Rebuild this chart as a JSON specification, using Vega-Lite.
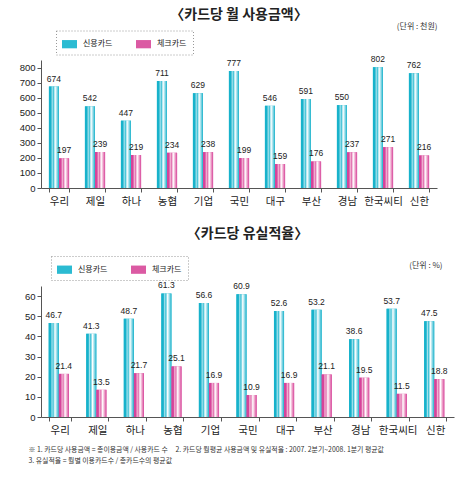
{
  "$schema": "https://vega.github.io/schema/vega-lite/v6.json",
  "background": "white",
  "padding": {"left": 19, "top": 8, "right": 5, "bottom": 4},
  "config": {
    "font": "Liberation Sans, Noto Sans CJK KR",
    "view": {"stroke": null},
    "concat": {"spacing": 19},
    "title": {"fontSize": 14, "fontWeight": "bold", "color": "#222", "font": "Noto Sans CJK KR"},
    "axis": {
      "domainColor": "#555",
      "tickColor": "#555",
      "tickSize": 4,
      "labelColor": "#222",
      "labelFont": "Liberation Sans",
      "labelFontSize": 9.5
    },
    "axisX": {"labelFont": "Noto Sans CJK KR", "labelFontSize": 10.5, "labelPadding": 4},
    "legend": {"strokeDash": [1, 2]}
  },
  "resolve": {"scale": {"color": "independent"}, "legend": {"color": "independent"}},
  "datasets": {
    "usage": [
      {"bank": "우리", "신용카드": 674, "체크카드": 197},
      {"bank": "제일", "신용카드": 542, "체크카드": 239},
      {"bank": "하나", "신용카드": 447, "체크카드": 219},
      {"bank": "농협", "신용카드": 711, "체크카드": 234},
      {"bank": "기업", "신용카드": 629, "체크카드": 238},
      {"bank": "국민", "신용카드": 777, "체크카드": 199},
      {"bank": "대구", "신용카드": 546, "체크카드": 159},
      {"bank": "부산", "신용카드": 591, "체크카드": 176},
      {"bank": "경남", "신용카드": 550, "체크카드": 237},
      {"bank": "한국씨티", "신용카드": 802, "체크카드": 271},
      {"bank": "신한", "신용카드": 762, "체크카드": 216}
    ],
    "active": [
      {"bank": "우리", "신용카드": 46.7, "체크카드": 21.4},
      {"bank": "제일", "신용카드": 41.3, "체크카드": 13.5},
      {"bank": "하나", "신용카드": 48.7, "체크카드": 21.7},
      {"bank": "농협", "신용카드": 61.3, "체크카드": 25.1},
      {"bank": "기업", "신용카드": 56.6, "체크카드": 16.9},
      {"bank": "국민", "신용카드": 60.9, "체크카드": 10.9},
      {"bank": "대구", "신용카드": 52.6, "체크카드": 16.9},
      {"bank": "부산", "신용카드": 53.2, "체크카드": 21.1},
      {"bank": "경남", "신용카드": 38.6, "체크카드": 19.5},
      {"bank": "한국씨티", "신용카드": 53.7, "체크카드": 11.5},
      {"bank": "신한", "신용카드": 47.5, "체크카드": 18.8}
    ]
  },
  "columns": 1,
  "align": "none",
  "concat": [
    {
      "title": {"text": "〈카드당 월 사용금액〉", "offset": 0},
      "width": 396,
      "height": 128,
      "data": {"name": "usage"},
      "transform": [{"fold": ["신용카드", "체크카드"], "as": ["card", "value"]}],
      "encoding": {
        "x": {
          "field": "bank", "type": "nominal",
          "sort": ["우리", "제일", "하나", "농협", "기업", "국민", "대구", "부산", "경남", "한국씨티", "신한"],
          "scale": {"paddingInner": 0.44, "paddingOuter": 0.22},
          "axis": {"title": null, "labelAngle": 0, "tickBand": "extent"}
        },
        "xOffset": {"field": "card", "type": "nominal", "scale": {"paddingInner": 0}},
        "y": {
          "field": "value", "type": "quantitative",
          "scale": {"domain": [0, 850], "nice": false},
          "axis": {
            "values": [0, 100, 200, 300, 400, 500, 600, 700, 800],
            "grid": false,
            "title": "(단위 : 천원)",
            "titleAngle": 0, "titleX": 396, "titleY": -34,
            "titleAlign": "right", "titleBaseline": "middle",
            "titleFontSize": 8, "titleFontWeight": "normal", "titleColor": "#333",
            "titleFont": "Noto Sans CJK KR"
          }
        }
      },
      "layer": [
        {
          "mark": {"type": "bar"},
          "encoding": {
            "color": {
              "field": "card", "type": "nominal",
              "scale": {"range": ["#2bbbd2", "#db5aa3"]},
              "legend": {
                "orient": "none", "legendX": 15, "legendY": -29.5,
                "direction": "horizontal", "title": null,
                "symbolType": "M-1,-0.55H1V0.55H-1Z", "symbolSize": 225,
                "symbolStrokeWidth": 0, "symbolOpacity": 1,
                "labelFont": "Noto Sans CJK KR", "labelFontSize": 8, "labelColor": "#222",
                "labelOffset": 6, "columnPadding": 23, "padding": 6,
                "strokeColor": "#999"
              }
            }
          }
        },
        {
          "mark": {"type": "bar"},
          "encoding": {
            "color": {
              "condition": {"test": "datum.card === '신용카드'", "value":
                {"gradient": "linear", "x1": 0, "y1": 0, "x2": 1, "y2": 0, "stops": [
                  {"offset": 0, "color": "#17b2cb"}, {"offset": 0.2, "color": "#17b2cb"},
                  {"offset": 0.33, "color": "#a6e2ec"}, {"offset": 0.44, "color": "#3ec1d6"},
                  {"offset": 0.62, "color": "#ffffff"}, {"offset": 0.82, "color": "#86d6e4"},
                  {"offset": 1, "color": "#17b2cb"}]}},
              "value":
                {"gradient": "linear", "x1": 0, "y1": 0, "x2": 1, "y2": 0, "stops": [
                  {"offset": 0, "color": "#d6439a"}, {"offset": 0.2, "color": "#d6439a"},
                  {"offset": 0.33, "color": "#f3b6d5"}, {"offset": 0.44, "color": "#e272b0"},
                  {"offset": 0.62, "color": "#ffffff"}, {"offset": 0.82, "color": "#ec9cc6"},
                  {"offset": 1, "color": "#d6439a"}]}
            }
          }
        },
        {
          "mark": {"type": "text", "baseline": "bottom", "dy": -3, "fontSize": 8.5, "font": "Liberation Sans", "color": "#222"},
          "encoding": {"text": {"field": "value", "type": "quantitative", "format": "d"}}
        }
      ]
    },
    {
      "title": {"text": "〈카드당 유실적율〉", "offset": 15},
      "width": 413,
      "height": 131,
      "data": {"name": "active"},
      "transform": [{"fold": ["신용카드", "체크카드"], "as": ["card", "value"]}],
      "encoding": {
        "x": {
          "field": "bank", "type": "nominal",
          "sort": ["우리", "제일", "하나", "농협", "기업", "국민", "대구", "부산", "경남", "한국씨티", "신한"],
          "scale": {"paddingInner": 0.41, "paddingOuter": 0.205},
          "axis": {
            "labelAngle": 0, "tickBand": "extent",
            "title": [
              "※ 1. 카드당 사용금액 = 총이용금액 / 사용카드 수\u00a0\u00a0\u00a0\u00a0 2. 카드당 월평균 사용금액 및 유실적율 : 2007. 2분기~2008. 1분기 평균값",
              "\u00a0\u00a0\u00a0\u00a0\u00a03. 유실적율 = 월별 이용카드수 / 총카드수의 평균값"
            ],
            "titleAnchor": "start", "titleAlign": "left", "titleBaseline": "top",
            "titleX": -13, "titleY": 29, "titleLineHeight": 11,
            "titleFontSize": 6.9, "titleFontWeight": "normal", "titleColor": "#333",
            "titleFont": "Noto Sans CJK KR"
          }
        },
        "xOffset": {"field": "card", "type": "nominal", "scale": {"paddingInner": 0}},
        "y": {
          "field": "value", "type": "quantitative",
          "scale": {"domain": [0, 65], "nice": false},
          "axis": {
            "values": [0, 10, 20, 30, 40, 50, 60],
            "grid": false,
            "title": "(단위 : %)",
            "titleAngle": 0, "titleX": 401, "titleY": -21,
            "titleAlign": "right", "titleBaseline": "middle",
            "titleFontSize": 8, "titleFontWeight": "normal", "titleColor": "#333",
            "titleFont": "Noto Sans CJK KR"
          }
        }
      },
      "layer": [
        {
          "mark": {"type": "bar"},
          "encoding": {
            "color": {
              "field": "card", "type": "nominal",
              "scale": {"range": ["#2bbbd2", "#db5aa3"]},
              "legend": {
                "orient": "none", "legendX": 10, "legendY": -30,
                "direction": "horizontal", "title": null,
                "symbolType": "M-1,-0.55H1V0.55H-1Z", "symbolSize": 225,
                "symbolStrokeWidth": 0, "symbolOpacity": 1,
                "labelFont": "Noto Sans CJK KR", "labelFontSize": 8, "labelColor": "#222",
                "labelOffset": 6, "columnPadding": 23, "padding": 6,
                "strokeColor": "#999"
              }
            }
          }
        },
        {
          "mark": {"type": "bar"},
          "encoding": {
            "color": {
              "condition": {"test": "datum.card === '신용카드'", "value":
                {"gradient": "linear", "x1": 0, "y1": 0, "x2": 1, "y2": 0, "stops": [
                  {"offset": 0, "color": "#17b2cb"}, {"offset": 0.2, "color": "#17b2cb"},
                  {"offset": 0.33, "color": "#a6e2ec"}, {"offset": 0.44, "color": "#3ec1d6"},
                  {"offset": 0.62, "color": "#ffffff"}, {"offset": 0.82, "color": "#86d6e4"},
                  {"offset": 1, "color": "#17b2cb"}]}},
              "value":
                {"gradient": "linear", "x1": 0, "y1": 0, "x2": 1, "y2": 0, "stops": [
                  {"offset": 0, "color": "#d6439a"}, {"offset": 0.2, "color": "#d6439a"},
                  {"offset": 0.33, "color": "#f3b6d5"}, {"offset": 0.44, "color": "#e272b0"},
                  {"offset": 0.62, "color": "#ffffff"}, {"offset": 0.82, "color": "#ec9cc6"},
                  {"offset": 1, "color": "#d6439a"}]}
            }
          }
        },
        {
          "mark": {"type": "text", "baseline": "bottom", "dy": -3, "fontSize": 8.5, "font": "Liberation Sans", "color": "#222"},
          "encoding": {"text": {"field": "value", "type": "quantitative", "format": ".1f"}}
        }
      ]
    }
  ]
}
